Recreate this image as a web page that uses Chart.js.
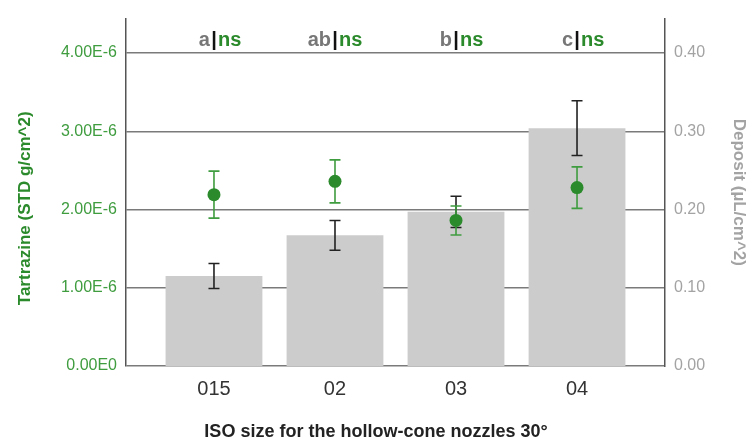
<!DOCTYPE html>
<html>
<head>
<meta charset="utf-8">
<script src="https://cdn.jsdelivr.net/npm/chart.js@4.4.1/dist/chart.umd.min.js"></script>
<style>
    html, body { margin: 0; padding: 0; background: #fff; }
    #grafico { display: block; }
</style>
</head>
<body>
<canvas id="grafico" width="752" height="443"></canvas>
<script>
// Nozzle sizes (ISO) on the x axis
const nozzleSizes = ['015', '02', '03', '04'];

// Deposit (bars, right axis) with error bars
const depositMean = [0.115, 0.167, 0.197, 0.304];
const depositErr = [0.016, 0.019, 0.020, 0.035];

// Tartrazine (points, left axis) with error bars
const tartrazineMean = [2.19e-6, 2.36e-6, 1.86e-6, 2.28e-6];
const tartrazineErr = [0.30e-6, 0.275e-6, 0.185e-6, 0.265e-6];

// Letters from the comparison tests
const depositGroups = ['a', 'ab', 'b', 'c'];
const tartrazineGroups = ['ns', 'ns', 'ns', 'ns'];

// Tick values of both y axes
const tartrazineTicks = [0, 1e-6, 2e-6, 3e-6, 4e-6];
const depositTicks = [0, 0.1, 0.2, 0.3, 0.4];

const VERDE = '#2b8a2b';
const VERDE_CLARO = '#3f9c3f';
const CINZA = '#a3a3a3';
const FONTE = "'Liberation Sans', Arial, sans-serif";

function formatoCientifico(v) {
    if (v === 0) return '0.00E0';
    const exp = Math.floor(Math.log10(v) + 1e-9);
    return (v / Math.pow(10, exp)).toFixed(2) + 'E' + exp;
}

function desenhaErro(ctx, x, yTop, yBot, cor) {
    const cap = 5.5;
    ctx.save();
    ctx.strokeStyle = cor;
    ctx.lineWidth = 1.6;
    ctx.beginPath();
    ctx.moveTo(x, yTop); ctx.lineTo(x, yBot);
    ctx.moveTo(x - cap, yTop); ctx.lineTo(x + cap, yTop);
    ctx.moveTo(x - cap, yBot); ctx.lineTo(x + cap, yBot);
    ctx.stroke();
    ctx.restore();
}

// Error bars: black ones over the bars, green ones under the points
const barrasErro = {
    id: 'barrasErro',
    afterDatasetDraw(chart, args) {
        if (args.index !== 1) return;
        const x = chart.scales.x, y1 = chart.scales.y1;
        depositMean.forEach((m, i) => {
            desenhaErro(chart.ctx, x.getPixelForValue(i),
                y1.getPixelForValue(m + depositErr[i]),
                y1.getPixelForValue(m - depositErr[i]), '#222');
        });
    },
    beforeDatasetDraw(chart, args) {
        if (args.index !== 0) return;
        const x = chart.scales.x, y = chart.scales.y;
        tartrazineMean.forEach((m, i) => {
            desenhaErro(chart.ctx, x.getPixelForValue(i),
                y.getPixelForValue(m + tartrazineErr[i]),
                y.getPixelForValue(m - tartrazineErr[i]), VERDE_CLARO);
        });
    }
};

// Group letters above each nozzle ("a|ns") and the left axis title
const letrasGrupo = {
    id: 'letrasGrupo',
    afterDraw(chart) {
        const ctx = chart.ctx;
        const x = chart.scales.x;
        const area = chart.chartArea;
        const base = area.top + 27;
        ctx.save();
        ctx.font = 'bold 20px ' + FONTE;
        ctx.textBaseline = 'alphabetic';
        nozzleSizes.forEach((_, i) => {
            const cx = x.getPixelForValue(i);
            ctx.fillStyle = '#111';
            ctx.textAlign = 'center';
            ctx.fillText('|', cx, base);
            ctx.fillStyle = '#777';
            ctx.textAlign = 'right';
            ctx.fillText(depositGroups[i], cx - 4, base);
            ctx.fillStyle = VERDE;
            ctx.textAlign = 'left';
            ctx.fillText(tartrazineGroups[i], cx + 4, base);
        });

        // titulo do eixo esquerdo, um pouco abaixo do centro
        ctx.translate(25, (area.top + area.bottom) / 2 + 16);
        ctx.rotate(-Math.PI / 2);
        ctx.font = 'bold 17px ' + FONTE;
        ctx.fillStyle = VERDE;
        ctx.textAlign = 'center';
        ctx.textBaseline = 'middle';
        ctx.fillText('Tartrazine (STD g/cm^2)', 0, 0);
        ctx.restore();
    }
};

new Chart(document.getElementById('grafico'), {
    data: {
        datasets: [
            {
                type: 'line',
                label: 'Tartrazine',
                data: tartrazineMean.map((v, i) => ({ x: i, y: v })),
                yAxisID: 'y',
                showLine: false,
                pointRadius: 6.5,
                pointHoverRadius: 6.5,
                pointBackgroundColor: VERDE,
                pointBorderWidth: 0
            },
            {
                type: 'bar',
                label: 'Deposit',
                data: depositMean.map((v, i) => ({ x: i, y: v })),
                yAxisID: 'y1',
                backgroundColor: '#cccccc',
                barPercentage: 1,
                categoryPercentage: 0.8
            }
        ]
    },
    options: {
        responsive: false,
        animation: false,
        events: [],
        layout: { padding: { top: 15, left: 0, right: 0, bottom: 0 } },
        plugins: {
            legend: { display: false },
            tooltip: { enabled: false },
            title: {
                display: true,
                position: 'bottom',
                text: 'ISO size for the hollow-cone nozzles 30°',
                color: '#222',
                font: { family: FONTE, size: 18, weight: 'bold' },
                padding: { top: 0, bottom: 0 }
            }
        },
        scales: {
            x: {
                type: 'linear',
                min: -0.727,
                max: 3.727,
                offset: false,
                afterBuildTicks: (s) => { s.ticks = nozzleSizes.map((_, i) => ({ value: i })); },
                afterFit: (s) => { s.height = 55.4; },
                grid: { display: false, drawTicks: false },
                border: { display: false },
                ticks: {
                    color: '#333',
                    padding: 11,
                    font: { family: FONTE, size: 20 },
                    callback: (v) => nozzleSizes[v]
                }
            },
            y: {
                position: 'left',
                min: 0,
                max: 4.44e-6,
                afterBuildTicks: (s) => { s.ticks = tartrazineTicks.map(v => ({ value: v })); },
                afterFit: (s) => { s.width = 126; },
                grid: { color: '#7a7a7a', lineWidth: 1.5, drawTicks: false },
                border: { display: true, color: '#555', width: 1.5 },
                ticks: {
                    color: VERDE_CLARO,
                    padding: 9,
                    font: { family: FONTE, size: 16 },
                    callback: (v) => formatoCientifico(v)
                }
            },
            y1: {
                position: 'right',
                min: 0,
                max: 0.444,
                afterBuildTicks: (s) => { s.ticks = depositTicks.map(v => ({ value: v })); },
                afterFit: (s) => { s.width = 87; },
                grid: { display: false, drawTicks: false },
                border: { display: true, color: '#555', width: 1.5 },
                ticks: {
                    color: CINZA,
                    padding: 9,
                    font: { family: FONTE, size: 16 },
                    callback: (v) => v.toFixed(2)
                },
                title: {
                    display: true,
                    text: 'Deposit (µL/cm^2)',
                    color: CINZA,
                    font: { family: FONTE, size: 17, weight: 'bold' },
                    padding: { top: 3, bottom: 0 }
                }
            }
        }
    },
    plugins: [barrasErro, letrasGrupo]
});
</script>
</body>
</html>
